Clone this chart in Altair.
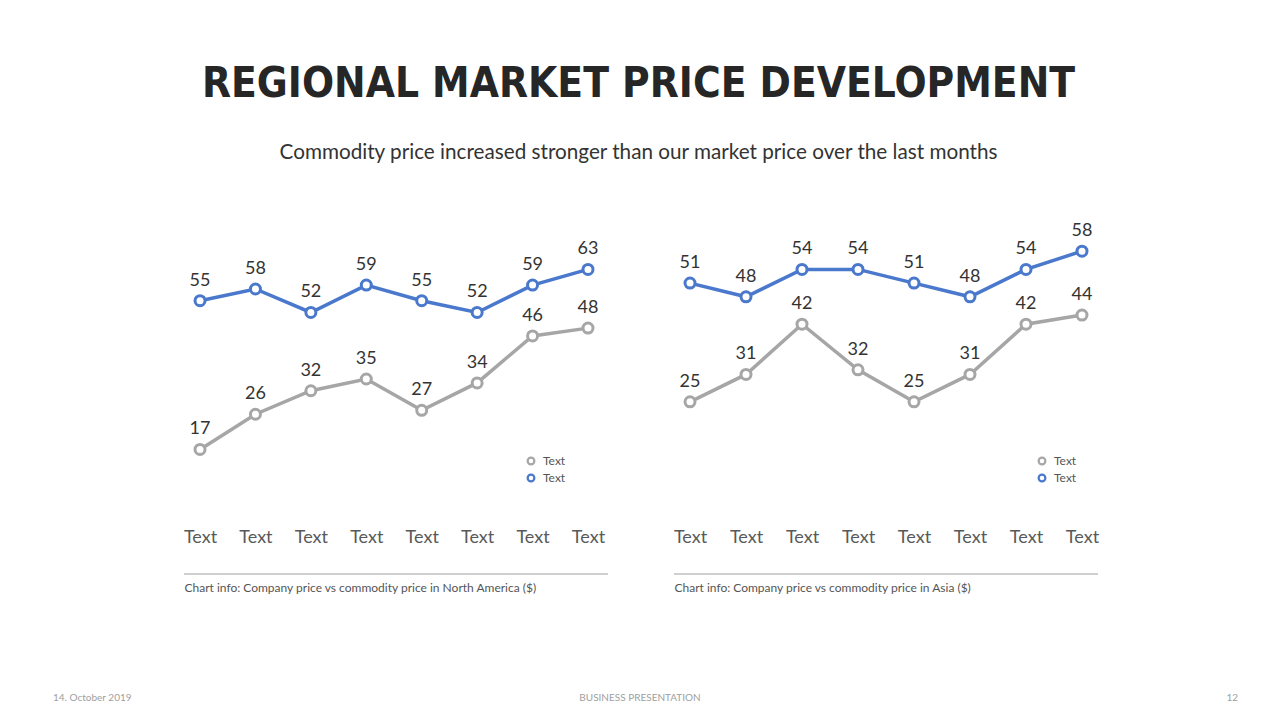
import altair as alt
import pandas as pd

# ---- data ----
categories = ["Text"] * 8
idx = list(range(8))
series_names = ["Commodity price", "Company price"]
na_commodity = [17, 26, 32, 35, 27, 34, 46, 48]
na_company = [55, 58, 52, 59, 55, 52, 59, 63]
asia_commodity = [25, 31, 42, 32, 25, 31, 42, 44]
asia_company = [51, 48, 54, 54, 51, 48, 54, 58]

title_text = "REGIONAL MARKET PRICE DEVELOPMENT"
subtitle_text = "Commodity price increased stronger than our market price over the last months"
info_na = "Chart info: Company price vs commodity price in North America ($)"
info_asia = "Chart info: Company price vs commodity price in Asia ($)"
footer_left = "14. October 2019"
footer_mid = "BUSINESS PRESENTATION"
footer_right = "12"

GRAY = "#a6a6a6"
BLUE = "#4a78cc"
FONT = "Lato"
W, H = 424, 274


def make_df(commodity, company):
    rows = []
    for i in idx:
        rows.append({"i": i, "cat": categories[i], "series": series_names[0], "value": commodity[i]})
    for i in idx:
        rows.append({"i": i, "cat": categories[i], "series": series_names[1], "value": company[i]})
    return pd.DataFrame(rows)


def panel(commodity, company, info, ymax, xdom, legend_x, footer=False):
    df = make_df(commodity, company)
    x = alt.X("i:Q",
              scale=alt.Scale(domain=xdom, nice=False, zero=False),
              axis=alt.Axis(values=idx, labelExpr="'Text'", domain=False, ticks=False, grid=False,
                            labelFont=FONT, labelFontSize=18, labelColor="#595959", labelPadding=12,
                            title=info, titleFont=FONT, titleFontSize=12, titleFontWeight="normal",
                            titleColor="#555555", titleAnchor="start", titleAlign="left",
                            titlePadding=36))
    y = alt.Y("value:Q", scale=alt.Scale(domain=[0, ymax], nice=False), axis=None)
    color = alt.Color("series:N",
                      scale=alt.Scale(domain=series_names, range=[GRAY, BLUE]),
                      legend=alt.Legend(orient="none", legendX=legend_x, legendY=213, title=None,
                                        labelExpr="'Text'", labelFont=FONT, labelFontSize=12,
                                        labelColor="#555555", symbolType="circle", symbolSize=45,
                                        symbolStrokeWidth=2.2, symbolFillColor="white",
                                        rowPadding=1, labelOffset=6, padding=0))
    base = alt.Chart(df)
    lines = base.mark_line(strokeWidth=3.5).encode(x=x, y=y, color=color)
    pts = base.mark_point(filled=True, fill="white", size=100, strokeWidth=3, opacity=1).encode(
        x=x, y=y, stroke=alt.Stroke("series:N", scale=alt.Scale(domain=series_names, range=[GRAY, BLUE]),
                                    legend=None))
    labels = base.mark_text(font=FONT, fontSize=18, color="#333333", dy=-20, baseline="middle").encode(
        x=x, y=y, text="value:Q")
    sep = base.mark_rule(color="#d0d0d0", strokeWidth=1.2).encode(
        x=alt.value(0), x2=alt.value(W), y=alt.value(332))
    layers = [lines, pts, labels, sep]
    if footer:
        fdf = pd.DataFrame({"t": [0]})
        fb = alt.Chart(fdf)
        layers.append(fb.mark_text(text=footer_left, font=FONT, fontSize=10, color="#a0a0a0",
                                   align="left", baseline="middle").encode(x=alt.value(-621), y=alt.value(456)))
        layers.append(fb.mark_text(text=footer_mid, font=FONT, fontSize=10, color="#a0a0a0",
                                   align="center", baseline="middle").encode(x=alt.value(-34), y=alt.value(456)))
        layers.append(fb.mark_text(text=footer_right, font=FONT, fontSize=10, color="#a0a0a0",
                                   align="right", baseline="middle").encode(x=alt.value(564), y=alt.value(456)))
    return alt.layer(*layers).properties(width=W, height=H).resolve_scale(color="independent", stroke="independent")


left = panel(na_commodity, na_company, info_na, 70, [-0.289, 7.361], 341)
right = panel(asia_commodity, asia_company, info_asia, 60, [-0.286, 7.286], 362, footer=True)

chart = alt.hconcat(left, right, spacing=66, bounds="flush").resolve_scale(
    x="independent", y="independent", color="independent", stroke="independent"
).resolve_legend(color="independent").properties(
    title=alt.TitleParams(
        text=title_text,
        subtitle=subtitle_text,
        font="DejaVu Sans Condensed",
        fontSize=42, fontWeight="bold", color="#262626",
        subtitleFont=FONT, subtitleFontSize=20.7, subtitleColor="#333333",
        subtitlePadding=37, anchor="middle", dx=-7, offset=58,
    ),
    padding={"left": 45, "top": 55, "right": 10, "bottom": 5},
    background="white",
).configure_view(stroke="transparent", strokeWidth=0)

chart.save("out.html", embed_options={"renderer": "svg", "actions": False})
